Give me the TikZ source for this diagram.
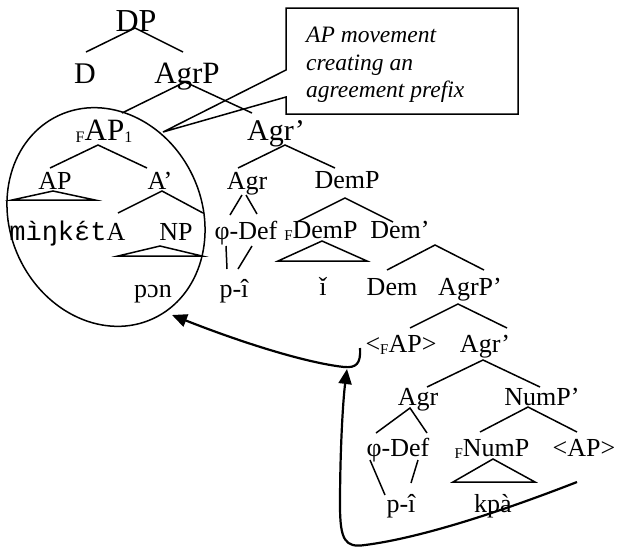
\documentclass[tikz,border=0pt]{standalone}
\usepackage{fontspec}
\setmainfont{Liberation Serif}
\newfontfamily\ipamono{Liberation Mono}
\usetikzlibrary{arrows.meta,shapes.geometric}

\newcommand\fsz[1]{\fontsize{#1}{#1}\selectfont}
\newcommand\lowsub[2]{{\fsz{#1}\raisebox{-2.5pt}{#2}}}
% acute laid over a monospaced letter cell
\newcommand\monoacute[1]{#1\llap{´}}

\begin{document}
\begin{tikzpicture}[x=1pt,y=-1pt,
  big/.style={font=\fsz{31}, inner sep=0pt, anchor=base},
  lab/.style={font=\fsz{26}, inner sep=0pt, anchor=base},
  br/.style={line width=1.5pt},
  mv/.style={line width=2.2pt, -{Triangle[length=15pt,width=13pt]}}]
\useasboundingbox (0,0) rectangle (617,550);

% upper part of the tree
\node[big, font=\fsz{32}] (dp) at (136,31) {DP};
\node[big, font=\fsz{30}] (d) at (85,83) {D};
\node[big] (agrp) at (187,83) {AgrP};
\node[big] (fap) at (104,140) {\lowsub{16}{F}AP\lowsub{16}{1}};
\node[big, font=\fsz{30}] (agrbar) at (276,140) {Agr’};

% inside the moved constituent
\node[lab] (ap) at (55,189) {AP};
\node[lab] (abar) at (160,189) {A’};
\node[lab, font=\fsz{27}\ipamono] (mink) at (58,240) {mìŋk\monoacute{ɛ}t};
\node[lab] (a) at (116,240) {A};
\node[lab] (np) at (176,240) {NP};
\node[lab] (pon) at (153,297) {pɔn};

% higher Agr and DemP
\node[lab] (agr) at (247,189) {Agr};
\node[lab] (demp) at (347,188) {DemP};
\node[lab] (phi) at (246,239) {φ-Def};
\node[lab] (pi) at (234,297) {p-î};
\node[lab] (fdemp) at (321,238) {\lowsub{15}{F}DemP};
\node[lab] (dembar) at (400,238) {Dem’};
\node[lab] (i) at (323,295) {ǐ};
\node[lab] (dem) at (392,295) {Dem};
\node[lab] (agrpbar) at (470,295) {AgrP’};

% lower AgrP
\node[lab] (fapt) at (401,352) {<\lowsub{15}{F}AP>};
\node[lab] (agrbarb) at (485,352) {Agr’};
\node[lab] (agrb) at (418,405) {Agr};
\node[lab] (numpbar) at (542,405) {NumP’};
\node[lab] (phib) at (398,456) {φ-Def};
\node[lab] (fnump) at (492,456) {\lowsub{15}{F}NumP};
\node[lab] (apt) at (584,456) {<AP>};
\node[lab] (pib) at (401,512) {p-î};
\node[lab] (kpa) at (493,512) {kpà};

% branches
\draw[br] ([shift={(1,-31)}]d.base) -- ([shift={(-1,-3)}]dp.base) -- ([shift={(-4,-31)}]agrp.base);
\draw[br] ([shift={(18,-27)}]fap.base) -- ([shift={(-2,-1)}]agrp.base) -- ([shift={(-24,-27)}]agrbar.base);
\draw[br] ([shift={(-5,-21)}]ap.base) -- ([shift={(-6,5)}]fap.base) -- ([shift={(-13,-21)}]abar.base);
\draw[br] ([shift={(-43,11)}]ap.base) -- ([shift={(-2,2)}]ap.base) -- ([shift={(40,11)}]ap.base) -- cycle;
\draw[br] ([shift={(2,-27)}]a.base) -- ([shift={(2,2)}]abar.base) -- ([shift={(27,-27)}]np.base);
\draw[br] ([shift={(-58,16)}]np.base) -- ([shift={(-16,6)}]np.base) -- ([shift={(26,16)}]np.base) -- cycle;
\draw[br] ([shift={(-9,-21)}]agr.base) -- ([shift={(9,5)}]agrbar.base) -- ([shift={(-12,-20)}]demp.base);
\draw[br] ([shift={(-5,6)}]agr.base) -- ([shift={(-16,-24)}]phi.base);
\draw[br] ([shift={(-1,6)}]agr.base) -- ([shift={(11,-25)}]phi.base);
\draw[br] ([shift={(-20,7)}]phi.base) -- ([shift={(-7,-28)}]pi.base);
\draw[br] ([shift={(6,7)}]phi.base) -- ([shift={(4,-28)}]pi.base);
\draw[br] ([shift={(-24,-16)}]fdemp.base) -- ([shift={(-2,10)}]demp.base) -- ([shift={(-7,-16)}]dembar.base);
\draw[br] ([shift={(-43,23)}]fdemp.base) -- ([shift={(1,3)}]fdemp.base) -- ([shift={(46,23)}]fdemp.base) -- cycle;
\draw[br] ([shift={(-5,-25)}]dem.base) -- ([shift={(35,7)}]dembar.base) -- ([shift={(14,-25)}]agrpbar.base);
\draw[br] ([shift={(9,-24)}]fapt.base) -- ([shift={(-12,9)}]agrpbar.base) -- ([shift={(22,-24)}]agrbarb.base);
\draw[br] ([shift={(9,-18)}]agrb.base) -- ([shift={(-2,8)}]agrbarb.base) -- ([shift={(-2,-18)}]numpbar.base);
\draw[br] ([shift={(-22,-23)}]phib.base) -- ([shift={(-8,3)}]agrb.base) -- ([shift={(29,-23)}]phib.base);
\draw[br] ([shift={(-12,-24)}]fnump.base) -- ([shift={(-14,2)}]numpbar.base) -- ([shift={(-7,-24)}]apt.base);
\draw[br] ([shift={(-28,4)}]phib.base) -- ([shift={(-16,-17)}]pib.base);
\draw[br] ([shift={(20,4)}]phib.base) -- ([shift={(10,-29)}]pib.base);
\draw[br] ([shift={(-39,26)}]fnump.base) -- ([shift={(1,3)}]fnump.base) -- ([shift={(43,26)}]fnump.base) -- cycle;

% the moved adjective phrase
\node[draw, ellipse, line width=1.5pt, minimum width=192pt, minimum height=224pt,
      inner sep=0pt, rotate=25] (moved) at (106,217) {};

% callout
\draw[line width=1.5pt] (286,8) -- (518,8) -- (518,114) -- (286,114) -- (286,97)
  -- (163,132) -- (286,70) -- cycle;
\node[font=\fontsize{23.5}{27.5}\selectfont\itshape, align=left, anchor=north west,
      inner sep=0pt] (note) at (306,27) {AP movement\\creating an\\agreement prefix};

% movement arrows
\coordinate (hook) at (347,369);
\coordinate (tip) at (172,315);
\draw[mv] ([shift={(-41,-4)}]fapt.base) .. controls (361,364) and (356,368) .. (344,367)
  .. controls (300,362) and (230,338) .. (tip);
\draw[mv] ([shift={(-7,26)}]apt.base) .. controls (500,512) and (420,538) .. (365,545)
  .. controls (345,548) and (340,540) .. (340,505)
  .. controls (340,450) and (343,400) .. (hook);
\end{tikzpicture}
\end{document}
